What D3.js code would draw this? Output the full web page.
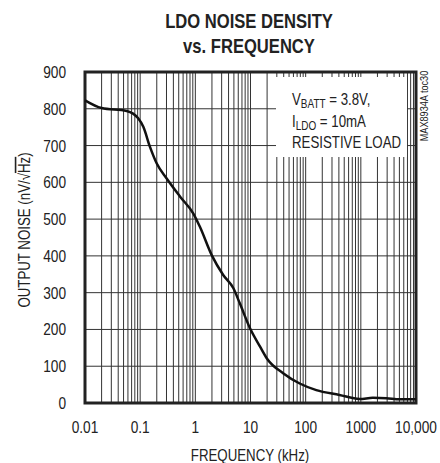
<!DOCTYPE html>
<html><head><meta charset="utf-8">
<script src="https://cdn.jsdelivr.net/npm/d3@7"></script>
<style>
body{margin:0;background:#fff;}
text{font-family:"Liberation Sans",Arial,sans-serif;fill:#222;}
</style></head>
<body><svg id="c" width="440" height="463"></svg>
<script>
const freq = [0.01, 0.02, 0.057, 0.092, 0.114, 0.15, 0.2, 0.3, 0.53, 0.92, 1.21, 1.98, 3.2, 4.9, 6.4, 9.8, 14.9, 19.8, 39, 78, 156, 410, 950, 1650, 2900, 5100, 10000];
const noise = [823, 802, 794, 774, 751, 697, 651, 611, 561, 515, 479, 402, 348, 312, 271, 203, 153, 121, 81, 53, 35, 22, 11, 14, 13, 10, 10];
const xTicks = [0.01, 0.1, 1, 10, 100, 1000, 10000];
const xTickLabels = ["0.01", "0.1", "1", "10", "100", "1000", "10,000"];
const yTicks = [0, 100, 200, 300, 400, 500, 600, 700, 800, 900];

const SX = 0.83;
const svg = d3.select("#c");
const L = 85, R = 416, T = 72, B = 403;
const x = d3.scaleLog().domain([0.01, 10000]).range([L, R]);
const y = d3.scaleLinear().domain([0, 900]).range([B, T]);

function txt(px, py, str, size, anchor, extra) {
  return svg.append("text")
    .attr("transform", `translate(${px},${py})${extra || ""} scale(${SX},1)`)
    .attr("font-size", size).attr("text-anchor", anchor || "start").text(str);
}

// grid
const minor = [];
for (let e = -2; e <= 3; e++) for (let k = 1; k <= 9; k++) minor.push(k * Math.pow(10, e));
svg.append("g").selectAll("line").data(minor).join("line")
  .attr("x1", d => x(d)).attr("x2", d => x(d)).attr("y1", T).attr("y2", B)
  .attr("stroke", "#333").attr("stroke-width", 1);
svg.append("g").selectAll("line").data(yTicks.slice(1, -1)).join("line")
  .attr("x1", L).attr("x2", R).attr("y1", d => y(d)).attr("y2", d => y(d))
  .attr("stroke", "#333").attr("stroke-width", 1);

// legend box background
svg.append("rect").attr("x", 276).attr("y", 77).attr("width", 131).attr("height", 80).attr("fill", "#fff");

// frame
svg.append("rect").attr("x", L).attr("y", T).attr("width", R - L).attr("height", B - T)
  .attr("fill", "none").attr("stroke", "#222").attr("stroke-width", 3);

// curve
const line = d3.line().x((d, i) => x(freq[i])).y(d => y(d)).curve(d3.curveMonotoneX);
svg.append("path").attr("d", line(noise)).attr("fill", "none").attr("stroke", "#111").attr("stroke-width", 2.5);

// tick labels
xTicks.forEach((d, i) => txt(x(d), 433, xTickLabels[i], 16.5, "middle"));
yTicks.forEach(d => txt(66, y(d) + 6, String(d), 16.5, "end"));

// titles
txt(249, 28, "LDO NOISE DENSITY", 20, "middle").attr("font-weight", "bold");
txt(249, 53, "vs. FREQUENCY", 20, "middle").attr("font-weight", "bold");
txt(250, 461, "FREQUENCY (kHz)", 16, "middle");
const yt = svg.append("text").attr("transform", `translate(30,230) rotate(-90) scale(${SX},1)`)
  .attr("font-size", 16).attr("text-anchor", "middle");
yt.append("tspan").text("OUTPUT NOISE (nV/√");
yt.append("tspan").attr("text-decoration", "overline").text("Hz");
yt.append("tspan").text(")");
svg.append("text").attr("transform", `translate(428,106) rotate(-90) scale(${SX},1)`)
  .attr("font-size", 11).attr("text-anchor", "middle").text("MAX8934A toc30");

// legend text
const t1 = txt(292, 105, "", 16, "start");
t1.append("tspan").text("V");
t1.append("tspan").attr("font-size", 12).attr("dy", 3).text("BATT");
t1.append("tspan").attr("dy", -3).text(" = 3.8V,");
const t2 = txt(292, 127, "", 16, "start");
t2.append("tspan").text("I");
t2.append("tspan").attr("font-size", 12).attr("dy", 3).text("LDO");
t2.append("tspan").attr("dy", -3).text(" = 10mA");
txt(292, 148, "RESISTIVE LOAD", 16, "start");
</script></body></html>
